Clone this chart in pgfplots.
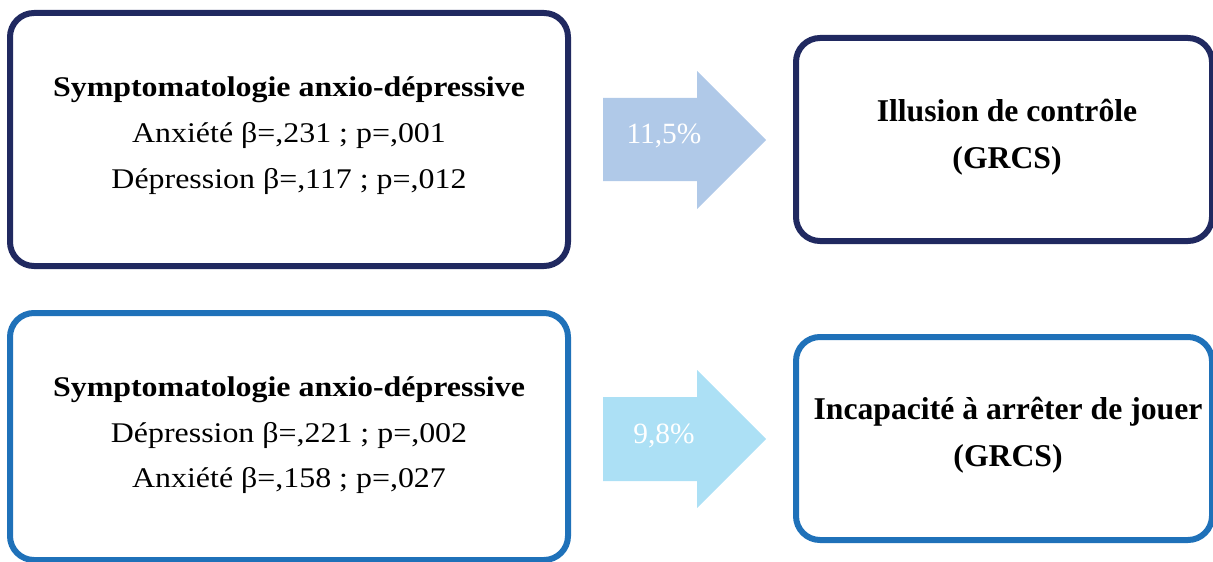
\documentclass[border=0pt]{standalone}
\usepackage{fontspec}
\setmainfont{Liberation Serif}
\newfontfamily\widefont{Liberation Serif}[FakeStretch=1.12]
\usepackage{pgfplots}
\pgfplotsset{compat=1.18}
\definecolor{navy}{RGB}{32,41,96}
\definecolor{bblue}{RGB}{31,113,185}
\definecolor{arrowA}{RGB}{176,201,232}
\definecolor{arrowB}{RGB}{172,224,245}
\begin{document}
\begin{tikzpicture}
\begin{axis}[
  width=1213bp, height=562bp, scale only axis,
  xmin=0, xmax=1213, ymin=0, ymax=562, y dir=reverse,
  hide axis, clip=true,
]
% invisible frame
\addplot[draw=none, forget plot] coordinates {(0,0) (1213,562)};
% arrows
\addplot[fill=arrowA, draw=none, forget plot] coordinates {(603,98) (697,98) (697,71) (766,140) (697,209) (697,181) (603,181)} -- cycle;
\addplot[fill=arrowB, draw=none, forget plot] coordinates {(603,397) (697,397) (697,370) (766,439) (697,508) (697,481) (603,481)} -- cycle;
% boxes
\addplot[draw=navy, line width=6bp, rounded corners=24bp, no marks, forget plot] coordinates {(289,13) (568,13) (568,266) (10,266) (10,13) (289,13)};
\addplot[draw=bblue, line width=6bp, rounded corners=24bp, no marks, forget plot] coordinates {(289,313) (568,313) (568,560) (10,560) (10,313) (289,313)};
\addplot[draw=navy, line width=6bp, rounded corners=24bp, no marks, forget plot] coordinates {(1000,38) (1212,38) (1212,241) (796,241) (796,38) (1000,38)};
\addplot[draw=bblue, line width=6bp, rounded corners=24bp, no marks, forget plot] coordinates {(1000,337) (1212,337) (1212,540) (796,540) (796,337) (1000,337)};
% left texts
\node[anchor=base, font=\widefont\fontsize{28.6}{34}\selectfont\bfseries] at (axis cs:289,96) {Symptomatologie anxio-dépressive};
\node[anchor=base, font=\widefont\fontsize{28.6}{34}\selectfont] at (axis cs:289,142) {Anxiété β=,231 ; p=,001};
\node[anchor=base, font=\widefont\fontsize{28.6}{34}\selectfont] at (axis cs:289,188) {Dépression β=,117 ; p=,012};
\node[anchor=base, font=\widefont\fontsize{28.6}{34}\selectfont\bfseries] at (axis cs:289,396) {Symptomatologie anxio-dépressive};
\node[anchor=base, font=\widefont\fontsize{28.6}{34}\selectfont] at (axis cs:289,442) {Dépression β=,221 ; p=,002};
\node[anchor=base, font=\widefont\fontsize{28.6}{34}\selectfont] at (axis cs:289,487) {Anxiété β=,158 ; p=,027};
% arrow texts
\node[anchor=base, text=white, font=\fontsize{29.5}{34}\selectfont] at (axis cs:664,143) {11,5\%};
\node[anchor=base, text=white, font=\fontsize{29.5}{34}\selectfont] at (axis cs:664,443) {9,8\%};
% right texts
\node[anchor=base, font=\fontsize{31.8}{36}\selectfont\bfseries] at (axis cs:1007,121) {Illusion de contrôle};
\node[anchor=base, font=\fontsize{31.8}{36}\selectfont\bfseries] at (axis cs:1007,168) {(GRCS)};
\node[anchor=base, font=\fontsize{31.8}{36}\selectfont\bfseries] at (axis cs:1008,419) {Incapacité à arrêter de jouer};
\node[anchor=base, font=\fontsize{31.8}{36}\selectfont\bfseries] at (axis cs:1008,466) {(GRCS)};
\end{axis}
\end{tikzpicture}
\end{document}
